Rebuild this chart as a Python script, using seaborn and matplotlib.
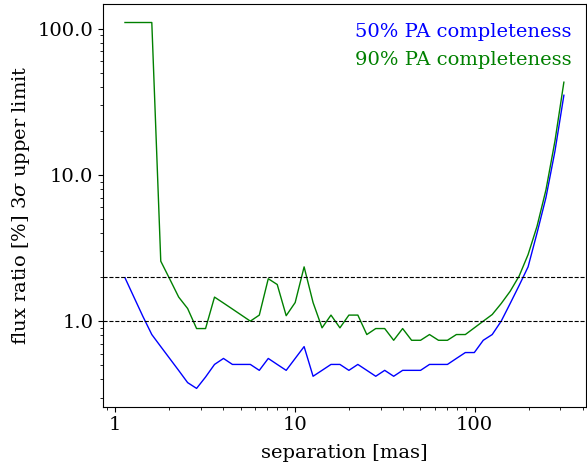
import numpy as np
import pandas as pd
import matplotlib
matplotlib.use('Agg')
import matplotlib.pyplot as plt
import matplotlib.ticker as mticker
import seaborn as sns

# separations [mas]
separation = [1.136, 1.274, 1.428, 1.602, 1.797, 2.016, 2.261, 2.535, 2.843, 3.189,
              3.577, 4.012, 4.500, 5.047, 5.660, 6.349, 7.121, 7.987, 8.958, 10.05,
              11.27, 12.64, 14.18, 15.90, 17.83, 20.00, 22.43, 25.16, 28.21, 31.64,
              35.49, 39.81, 44.65, 50.08, 56.16, 63.00, 70.66, 79.24, 88.87, 99.7,
              111.8, 125.4, 140.7, 157.8, 176.9, 198.5, 222.6, 249.6, 280.0, 314.0]

# flux ratio 3 sigma upper limits [%]
limit_50 = [1.98, 1.46, 1.08, 0.81, 0.67, 0.555, 0.46, 0.38, 0.347, 0.415,
            0.506, 0.556, 0.506, 0.506, 0.506, 0.461, 0.556, 0.506, 0.461, 0.556,
            0.67, 0.42, 0.461, 0.506, 0.506, 0.461, 0.506, 0.461, 0.42, 0.461,
            0.42, 0.461, 0.461, 0.461, 0.506, 0.506, 0.506, 0.556, 0.61, 0.61,
            0.74, 0.81, 1.0, 1.32, 1.75, 2.35, 4.0, 7.0, 14.5, 35.0]

limit_90 = [110.0, 110.0, 110.0, 110.0, 2.57, 1.94, 1.46, 1.22, 0.89, 0.89,
            1.46, 1.33, 1.21, 1.10, 1.0, 1.10, 1.95, 1.78, 1.09, 1.34,
            2.35, 1.34, 0.90, 1.10, 0.90, 1.10, 1.10, 0.81, 0.89, 0.89,
            0.74, 0.89, 0.74, 0.74, 0.81, 0.74, 0.74, 0.81, 0.81, 0.90,
            1.0, 1.11, 1.32, 1.6, 2.03, 2.85, 4.45, 7.9, 17.0, 43.0]

labels = ['50% PA completeness', '90% PA completeness']
colors = ['blue', 'green']
ref_levels = [1.0, 2.0]

df = pd.DataFrame({
    'sep': separation * 2,
    'lim': limit_50 + limit_90,
    'curve': [labels[0]] * len(separation) + [labels[1]] * len(separation),
})

plt.rcParams['font.family'] = ['DejaVu Serif']
plt.rcParams['mathtext.fontset'] = 'dejavuserif'

fig, ax = plt.subplots(figsize=(5.87, 4.68), dpi=100)
fig.subplots_adjust(left=0.1755, right=0.998, top=0.991, bottom=0.131)

sns.lineplot(data=df, x='sep', y='lim', hue='curve', palette=colors,
             hue_order=labels, lw=1, ax=ax, legend=True)

for lev in ref_levels:
    ax.axhline(lev, color='black', ls='--', lw=0.8)

ax.set_xscale('log')
ax.set_yscale('log')
ax.xaxis.set_major_formatter(mticker.FormatStrFormatter('%g'))
ax.yaxis.set_major_formatter(mticker.FormatStrFormatter('%.1f'))
ax.tick_params(labelsize=14)

ax.set_xlabel('separation [mas]', fontsize=14, labelpad=7)
ax.set_ylabel(r'flux ratio [%] 3$\sigma$ upper limit', fontsize=14)

# text-only legend in the upper right
leg = ax.legend(loc='upper right', bbox_to_anchor=(0.986, 0.973), frameon=False,
                handlelength=0, handletextpad=0, labelcolor='linecolor',
                fontsize=14, borderaxespad=0)
for h in leg.legend_handles:
    h.set_visible(False)

fig.savefig('out.png', dpi=100)
